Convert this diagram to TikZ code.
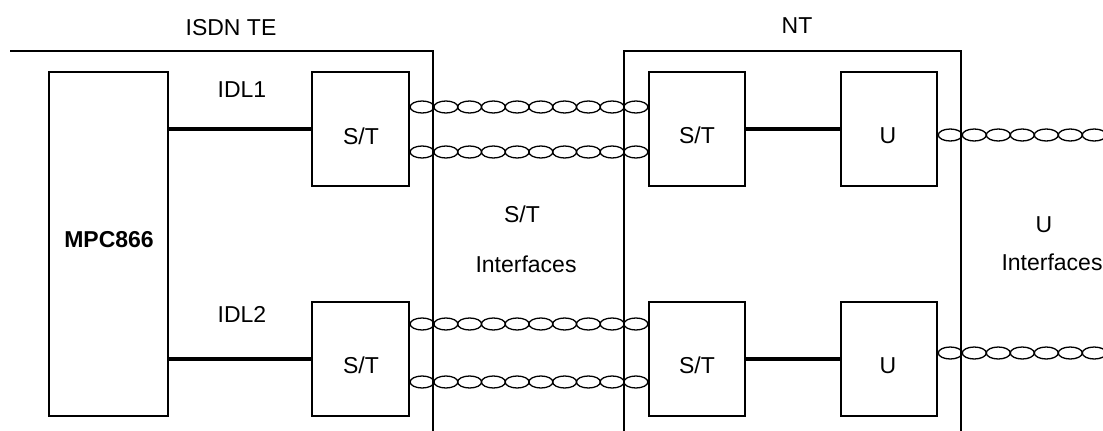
\documentclass[tikz,border=0pt]{standalone}
\usepackage{fontspec}
\setmainfont{Liberation Sans}
\usetikzlibrary{calc}
\newcommand\twistpair[3]{%
  \foreach \k in {1,...,#3}{%
    \draw[pairline] ($(#1)!{(\k-0.5)/#3}!(#2)$) ellipse [x radius=12pt, y radius=6pt];}}
\begin{document}
\begin{tikzpicture}[x=1pt,y=-1pt,
  box/.style={draw, line width=2.5pt, inner sep=0pt},
  frame/.style={draw, line width=2.5pt},
  bus/.style={draw, line width=4.7pt},
  pairline/.style={draw, line width=1.3pt},
  lbl/.style={anchor=base, inner sep=0pt, font=\fontsize{23pt}{27pt}\selectfont}]
\clip (0,0) rectangle (1103,431);
% frames
\draw[frame] (10,51) -- (433,51) -- (433,435);
\draw[frame] (624,435) -- (624,51) -- (961,51) -- (961,435);
% boxes
\node[box, minimum width=119pt, minimum height=344pt] (mpc) at (108.5,244) {};
\node[box, minimum width=97pt, minimum height=114pt] (st1) at (360.5,129) {};
\node[box, minimum width=97pt, minimum height=114pt] (st2) at (360.5,359) {};
\node[box, minimum width=96pt, minimum height=114pt] (nst1) at (697,129) {};
\node[box, minimum width=96pt, minimum height=114pt] (nst2) at (697,359) {};
\node[box, minimum width=96pt, minimum height=114pt] (u1) at (889,129) {};
\node[box, minimum width=96pt, minimum height=114pt] (u2) at (889,359) {};
% buses
\draw[bus] (st1.west -| mpc.east) -- (st1.west);
\draw[bus] (st2.west -| mpc.east) -- (st2.west);
\draw[bus] (nst1.east) -- (u1.west);
\draw[bus] (nst2.east) -- (u2.west);
% twisted pairs S/T
\coordinate (a1) at ($(st1.east)+(0,-22)$);
\coordinate (b1) at ($(nst1.west)+(0,-22)$);
\coordinate (a2) at ($(st1.east)+(0,23)$);
\coordinate (b2) at ($(nst1.west)+(0,23)$);
\coordinate (a3) at ($(st2.east)+(0,-35)$);
\coordinate (b3) at ($(nst2.west)+(0,-35)$);
\coordinate (a4) at ($(st2.east)+(0,23)$);
\coordinate (b4) at ($(nst2.west)+(0,23)$);
\twistpair{a1}{b1}{10}
\twistpair{a2}{b2}{10}
\twistpair{a3}{b3}{10}
\twistpair{a4}{b4}{10}
% twisted pairs U
\coordinate (c1) at ($(u1.east)+(0,6)$);
\coordinate (d1) at ($(c1)+(192,0)$);
\coordinate (c2) at ($(u2.east)+(0,-6)$);
\coordinate (d2) at ($(c2)+(192,0)$);
\twistpair{c1}{d1}{8}
\twistpair{c2}{d2}{8}
% labels
\node[lbl] at (231,35) {ISDN TE};
\node[lbl] at (797,34) {NT};
\node[lbl] at (242,97) {IDL1};
\node[lbl] at (242,322) {IDL2};
\node[lbl] at ($(st1.center)+(0.5,15)$) {S/T};
\node[lbl] at ($(st2.center)+(0.5,14)$) {S/T};
\node[lbl] at ($(nst1.center)+(0,14)$) {S/T};
\node[lbl] at ($(nst2.center)+(0,14)$) {S/T};
\node[lbl] at ($(u1.center)+(-1,14)$) {U};
\node[lbl] at ($(u2.center)+(-1,14)$) {U};
\node[lbl, font=\fontsize{23pt}{27pt}\selectfont\bfseries] at (109,247) {MPC866};
\node[lbl] at (522,222) {S/T};
\node[lbl] at (526,272) {Interfaces};
\node[lbl] at (1044,232) {U};
\node[lbl] at (1052,270) {Interfaces};
\end{tikzpicture}
\end{document}
